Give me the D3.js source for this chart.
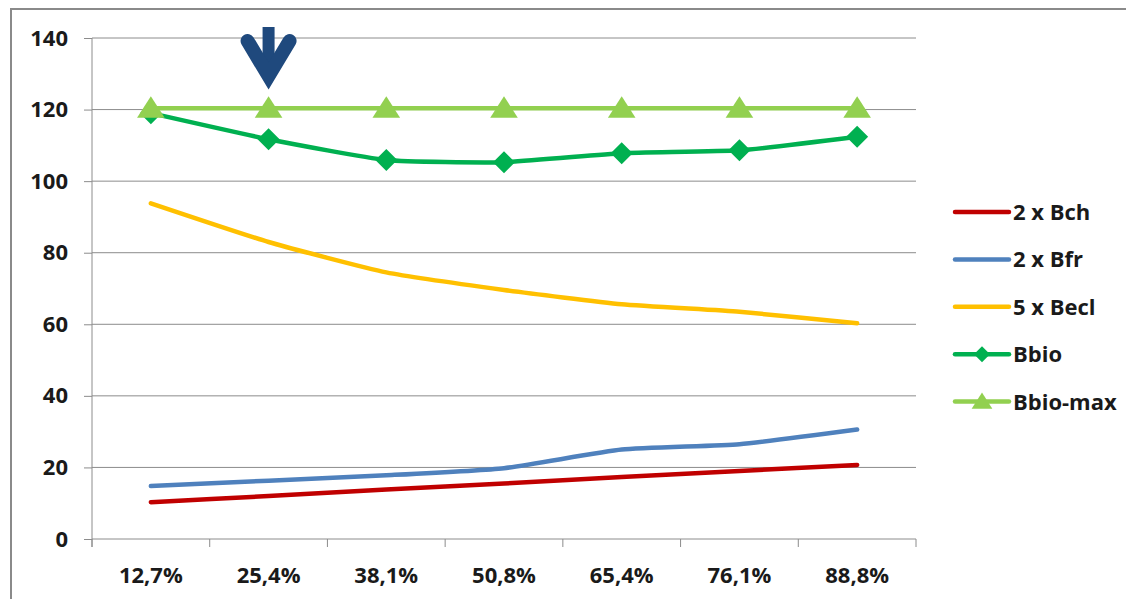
<!DOCTYPE html>
<html>
<head>
<meta charset="utf-8">
<title>Bbio chart</title>
<script src="https://d3js.org/d3.v7.min.js"></script>
<style>
  body { margin: 0; background: #fff; }
  text { font-family: "Open Sans", Lato, sans-serif; font-weight: bold; fill: #1a1a1a; }
</style>
</head>
<body>
<script>
var width = 1126,
    height = 599;

// data
var categories = ["12,7%", "25,4%", "38,1%", "50,8%", "65,4%", "76,1%", "88,8%"];
var bch     = [10.3, 12.0, 13.8, 15.5, 17.3, 19.0, 20.7];
var bfr     = [14.8, 16.3, 17.8, 19.8, 25.0, 26.5, 30.6];
var becl    = [93.8, 83.0, 74.5, 69.6, 65.6, 63.5, 60.3];
var bbio    = [119.0, 111.7, 105.9, 105.3, 107.8, 108.6, 112.4];
var bbioMax = [120.4, 120.4, 120.4, 120.4, 120.4, 120.4, 120.4];
var yTicks  = [0, 20, 40, 60, 80, 100, 120, 140];
var arrowAt = "25,4%";

var series = [
    {name: "2 x Bch",   values: bch,     color: "#C00000", marker: null},
    {name: "2 x Bfr",   values: bfr,     color: "#4F81BD", marker: null},
    {name: "5 x Becl",  values: becl,    color: "#FFC000", marker: null},
    {name: "Bbio",      values: bbio,    color: "#00B050", marker: "diamond"},
    {name: "Bbio-max",  values: bbioMax, color: "#92D050", marker: "triangle"}
];

var plot = {left: 92, right: 916, top: 38, bottom: 539};
var fontSize = 22;

var svg = d3.select("body").append("svg")
    .attr("width", width)
    .attr("height", height);

svg.append("rect")
    .attr("x", 11).attr("y", 9)
    .attr("width", width).attr("height", height)
    .attr("fill", "#fff")
    .attr("stroke", "#8a8a8a")
    .attr("stroke-width", 2);

var x = d3.scaleBand().domain(categories).range([plot.left, plot.right]);
var y = d3.scaleLinear().domain([0, 140]).range([plot.bottom, plot.top]);
var cx = function(c) { return x(c) + x.bandwidth() / 2; };

// grid + y axis
var yAxis = svg.append("g")
    .attr("transform", "translate(" + plot.left + ",0)")
    .call(d3.axisLeft(y).tickValues(yTicks).tickSize(8).tickPadding(16));
yAxis.select(".domain").remove();
yAxis.selectAll(".tick line").attr("stroke", "#8c8c8c");
yAxis.selectAll(".tick text").attr("font-size", fontSize).attr("fill", "#1a1a1a");

svg.append("g").selectAll("line")
    .data(yTicks)
    .enter().append("line")
        .attr("x1", plot.left).attr("x2", plot.right)
        .attr("y1", function(d) { return y(d); })
        .attr("y2", function(d) { return y(d); })
        .attr("stroke", "#8c8c8c");

svg.append("line")
    .attr("x1", plot.left).attr("x2", plot.left)
    .attr("y1", plot.top).attr("y2", plot.bottom + 8)
    .attr("stroke", "#8c8c8c");

// x axis: ticks on band edges
var edges = categories.map(function(c) { return x(c); }).concat([plot.right]);
svg.append("g").selectAll("line")
    .data(edges)
    .enter().append("line")
        .attr("x1", function(d) { return d; })
        .attr("x2", function(d) { return d; })
        .attr("y1", plot.bottom).attr("y2", plot.bottom + 8)
        .attr("stroke", "#8c8c8c");

svg.append("g").selectAll("text")
    .data(categories)
    .enter().append("text")
        .attr("x", cx)
        .attr("y", 583)
        .attr("text-anchor", "middle")
        .attr("font-size", fontSize)
        .text(function(d) { return d; });

// lines
var line = d3.line()
    .x(function(d, i) { return cx(categories[i]); })
    .y(function(d) { return y(d); })
    .curve(d3.curveCardinal.tension(0.5));

var diamond = function(s) { return "M0," + (-s) + "L" + s + ",0L0," + s + "L" + (-s) + ",0Z"; };
var triangle = function(s) { return "M0," + (-s) + "L" + (s * 1.15) + "," + (s * 0.8) + "L" + (-s * 1.15) + "," + (s * 0.8) + "Z"; };
var markerPath = function(m, s) { return m === "diamond" ? diamond(s) : triangle(s); };

series.forEach(function(s) {
    svg.append("path")
        .attr("d", line(s.values))
        .attr("fill", "none")
        .attr("stroke", s.color)
        .attr("stroke-width", 4.5)
        .attr("stroke-linecap", "round");
    if (s.marker) {
        svg.append("g").selectAll("path")
            .data(s.values)
            .enter().append("path")
                .attr("transform", function(d, i) { return "translate(" + cx(categories[i]) + "," + y(d) + ")"; })
                .attr("d", markerPath(s.marker, s.marker === "diamond" ? 11 : 12))
                .attr("fill", s.color);
    }
});

// legend
var legend = svg.append("g").selectAll("g")
    .data(series)
    .enter().append("g")
        .attr("transform", function(d, i) { return "translate(955," + (212 + i * 47.4) + ")"; });
legend.append("line")
    .attr("x1", 0).attr("x2", 54)
    .attr("stroke", function(d) { return d.color; })
    .attr("stroke-width", 4.5)
    .attr("stroke-linecap", "round");
legend.filter(function(d) { return d.marker; }).append("path")
    .attr("transform", "translate(27,0)")
    .attr("d", function(d) { return markerPath(d.marker, d.marker === "diamond" ? 8 : 9); })
    .attr("fill", function(d) { return d.color; });
legend.append("text")
    .attr("x", 58)
    .attr("dy", "0.36em")
    .attr("font-size", fontSize)
    .text(function(d) { return d.name; });

// arrow over the chosen category
var ax = cx(arrowAt);
var arrow = svg.append("g").attr("fill", "#1F497D").attr("stroke", "#1F497D");
arrow.append("rect")
    .attr("x", ax - 6).attr("y", 27)
    .attr("width", 12).attr("height", 44)
    .attr("stroke", "none");
arrow.append("path")
    .attr("d", "M" + (ax - 21) + ",41L" + ax + ",76L" + (ax + 21) + ",41")
    .attr("fill", "none")
    .attr("stroke-width", 14)
    .attr("stroke-linecap", "round")
    .attr("stroke-linejoin", "miter")
    .attr("stroke-miterlimit", 10);
</script>
</body>
</html>
